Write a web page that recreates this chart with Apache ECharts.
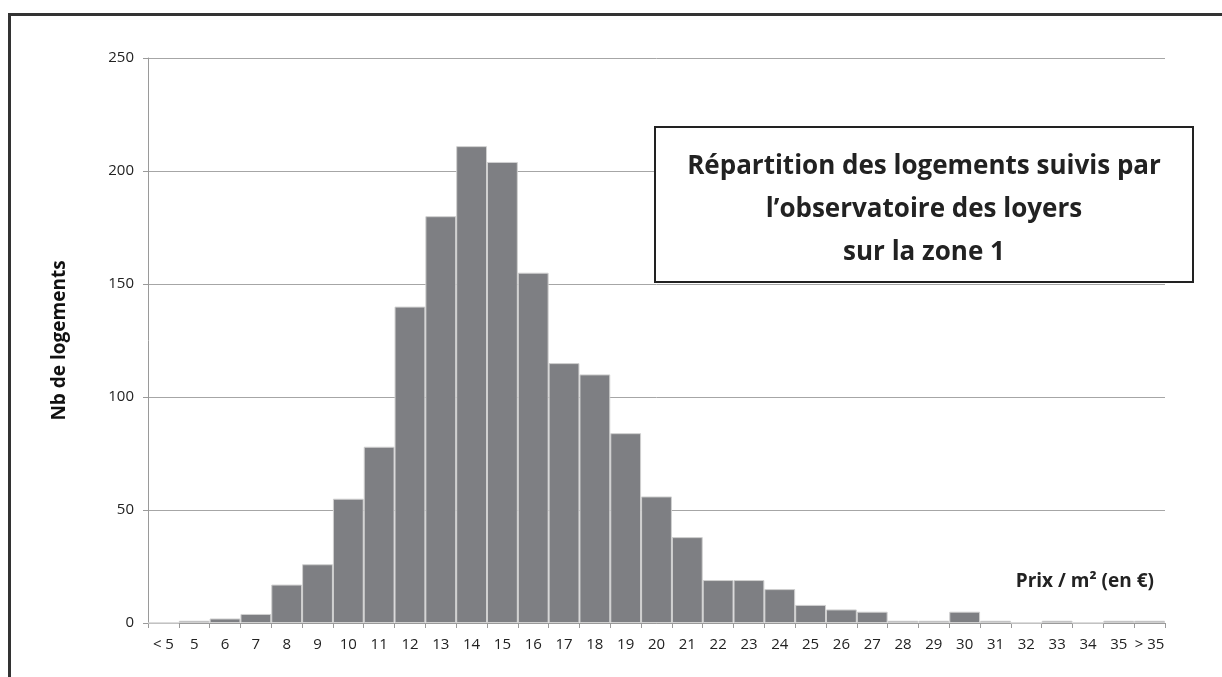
<!DOCTYPE html>
<html>
<head>
<meta charset="utf-8">
<script src="https://cdn.jsdelivr.net/npm/echarts@6/dist/echarts.min.js"></script>
<style>
html,body{margin:0;padding:0;background:#fff;}
#chart{width:1222px;height:677px;}
</style>
</head>
<body>
<div id="chart"></div>
<script>
const categories = ['< 5','5','6','7','8','9','10','11','12','13','14','15','16','17','18','19','20','21','22','23','24','25','26','27','28','29','30','31','32','33','34','35','> 35'];
const counts = [0,1,2,4,17,26,55,78,140,180,211,204,155,115,110,84,56,38,19,19,15,8,6,5,1,1,5,1,0,1,0,1,1];
const yTicks = {min:0, max:250, interval:50};
const titleText = 'Répartition des logements suivis par\nl’observatoire des loyers\nsur la zone 1';
const yName = 'Nb de logements';
const xName = 'Prix / m² (en €)';

const FONT = '"Open Sans", "Liberation Sans", sans-serif';
const chart = echarts.init(document.getElementById('chart'), null, {renderer:'canvas'});
chart.setOption({
  animation:false,
  backgroundColor:'#fff',
  grid:{left:148, right:57, top:58, bottom:54},
  xAxis:{
    type:'category',
    data:categories,
    boundaryGap:true,
    axisLine:{show:true, lineStyle:{color:'#9a9a9a', width:1}},
    axisTick:{show:true, length:5, lineStyle:{color:'#9a9a9a'}},
    axisLabel:{interval:0, color:'#222', fontSize:15, fontFamily:'Open Sans', margin:14},
    splitLine:{show:false}
  },
  yAxis:{
    type:'value',
    min:yTicks.min, max:yTicks.max, interval:yTicks.interval,
    name:yName,
    nameLocation:'middle',
    nameGap:79,
    nameRotate:90,
    nameTextStyle:{fontWeight:'bold', fontSize:19, color:'#111', fontFamily:FONT},
    axisLine:{show:true, lineStyle:{color:'#9a9a9a', width:1}},
    axisTick:{show:true, length:5, lineStyle:{color:'#9a9a9a'}},
    axisLabel:{color:'#222', fontSize:15, fontFamily:'Open Sans', margin:14},
    splitLine:{show:true, lineStyle:{color:'#a6a6a6', width:1}}
  },
  series:[{
    type:'bar',
    data:counts,
    barCategoryGap:'0%',
    itemStyle:{color:'#7e7f83', borderColor:'#d0d0d0', borderWidth:1}
  }],
  graphic:[
    {type:'rect', shape:{x:9.5, y:14.5, width:1400, height:1000}, style:{fill:'none', stroke:'#333', lineWidth:3}, z:100},
    {type:'rect', shape:{x:655, y:127, width:538, height:155}, style:{fill:'#fff', stroke:'#222', lineWidth:2}, z:100},
    {type:'text', x:924, y:210, z:101, style:{text:titleText, fill:'#222', font:'bold 26px ' + FONT, align:'center', verticalAlign:'middle', lineHeight:43}},
    {type:'text', x:1154, y:582, z:101, style:{text:xName, fill:'#222', font:'bold 19px ' + FONT, align:'right', verticalAlign:'middle'}}
  ]
});
</script>
</body>
</html>
